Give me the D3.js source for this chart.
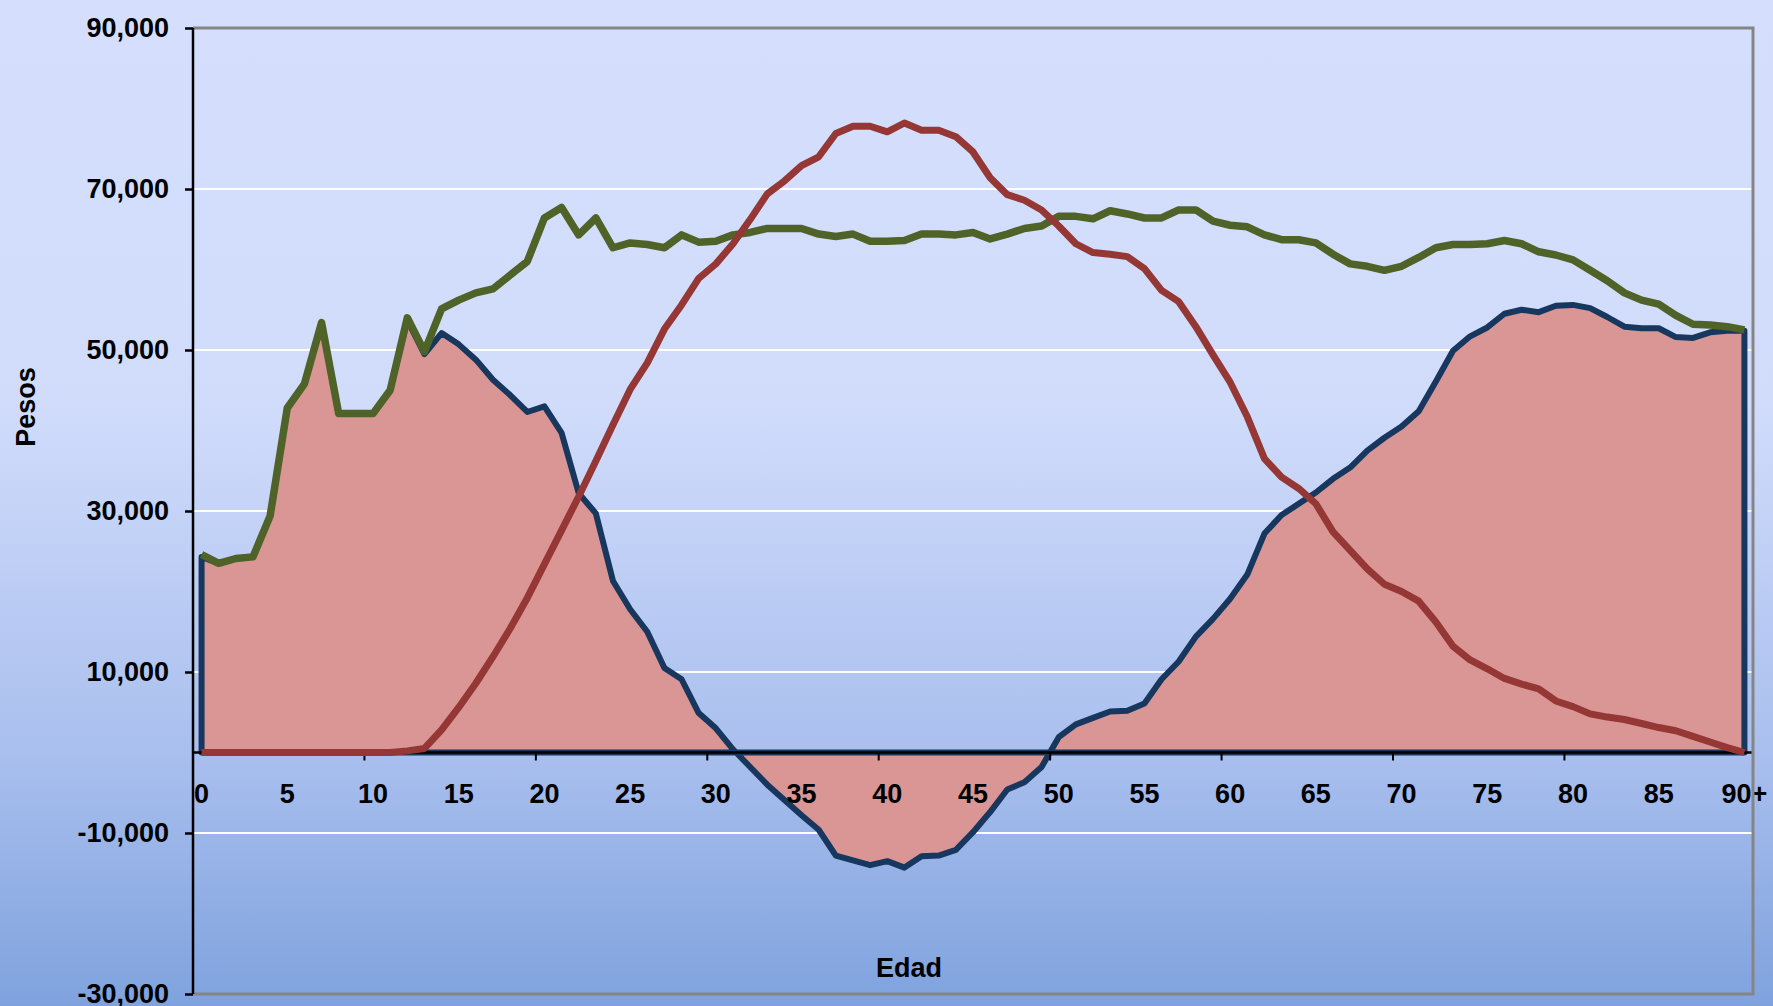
<!DOCTYPE html>
<meta charset="utf-8">
<style>
body { margin: 0; }
svg { display: block; }
.label {
  font-family: Arial, "Liberation Sans", sans-serif;
  font-weight: bold;
  font-size: 27px;
  fill: #000;
}
.grid line { stroke: #fff; stroke-width: 2px; }
</style>
<body>

<script src="https://d3js.org/d3.v7.min.js"></script>
<script>

// categories (edad) and tick labels
var ages = d3.range(90).map(String).concat(["90+"]);
var ageLabels = ["0","5","10","15","20","25","30","35","40","45","50","55","60","65","70","75","80","85","90+"];
var ageTicks = ["10","20","30","40","50","60","70","80","90"];
var yTicks = [-30000, -10000, 10000, 30000, 50000, 70000, 90000];
var gridValues = [-10000, 10000, 30000, 50000, 70000];

// consumo (verde)
var consumo = [24600,23500,24100,24300,29400,42800,45800,53400,42100,42100,
  42100,45000,54000,49800,55100,56200,57100,57600,59300,61000,
  66400,67700,64300,66400,62700,63300,63100,62700,64300,63400,
  63500,64300,64600,65100,65100,65100,64400,64100,64400,63500,
  63500,63600,64400,64400,64300,64600,63800,64400,65100,65400,
  66600,66600,66300,67300,66900,66400,66400,67400,67400,66000,
  65500,65300,64300,63700,63700,63300,61900,60700,60400,59900,
  60400,61500,62700,63100,63100,63200,63600,63200,62200,61800,
  61200,59900,58600,57100,56200,55700,54300,53200,53100,52900,
  52500];

// ingreso laboral (rojo)
var ingreso = [0,0,0,0,0,0,0,0,0,0,
  0,0,200,500,2800,5600,8600,11900,15400,19200,
  23400,27600,31800,36200,40700,45100,48400,52600,55600,58900,
  60700,63200,66200,69400,71000,72900,74000,76900,77800,77800,
  77100,78200,77300,77300,76500,74600,71400,69300,68600,67400,
  65400,63200,62100,61900,61600,60100,57400,56000,52900,49400,
  46000,41700,36500,34200,32800,30900,27400,25100,22800,20900,
  20000,18800,16200,13200,11500,10400,9200,8500,7900,6400,
  5700,4800,4400,4100,3600,3100,2700,2000,1300,600,
  0];

// deficit del ciclo de vida (area)
var deficit = [24300,23500,24100,24300,29400,42800,45800,53400,42100,42100,
  42100,45000,53700,49500,52100,50700,48800,46300,44400,42300,
  43000,39700,32200,29700,21300,17800,15000,10500,9100,4900,
  3000,400,-1800,-4000,-5900,-7800,-9600,-12800,-13400,-14000,
  -13500,-14300,-12900,-12800,-12100,-9900,-7400,-4600,-3700,-1800,
  1900,3500,4300,5100,5200,6100,9100,11300,14400,16600,
  19100,22100,27200,29500,30900,32300,34000,35400,37500,39100,
  40500,42400,46100,49900,51700,52800,54500,55000,54700,55500,
  55600,55200,54100,52900,52700,52700,51600,51500,52200,52400,
  52400];

var W = 1773, H = 1006;
var margin = {top: 28, right: 20, bottom: 12, left: 193},
    width = W - margin.left - margin.right,
    height = H - margin.top - margin.bottom;

var svg0 = d3.select("body").append("svg")
    .attr("width", W)
    .attr("height", H);

// background gradient
var grad = svg0.append("defs").append("linearGradient")
    .attr("id", "bg")
    .attr("x1", 0).attr("y1", 0).attr("x2", 0).attr("y2", 1);
grad.append("stop").attr("offset", "0%").attr("stop-color", "#d5dffd");
grad.append("stop").attr("offset", "40%").attr("stop-color", "#d1dcfb");
grad.append("stop").attr("offset", "75%").attr("stop-color", "#a9bfee");
grad.append("stop").attr("offset", "100%").attr("stop-color", "#7fa2de");

svg0.append("rect")
    .attr("width", W)
    .attr("height", H)
    .attr("fill", "url(#bg)");

var svg = svg0.append("g")
    .attr("transform", "translate(" + margin.left + "," + margin.top + ")");

var x = d3.scaleBand().domain(ages).range([0, width]);
var y = d3.scaleLinear().domain([-30000, 90000]).range([height, 0]);
var cx = function(i) { return x(ages[i]) + x.bandwidth() / 2; };

// white gridlines
svg.append("g").attr("class", "grid")
  .selectAll("line").data(gridValues).enter().append("line")
    .attr("x1", 0).attr("x2", width)
    .attr("y1", function(d) { return y(d); })
    .attr("y2", function(d) { return y(d); });

// area of the deficit with its blue outline
var area = d3.area()
    .x(function(d, i) { return cx(i); })
    .y0(y(0))
    .y1(function(d) { return y(d); });

svg.append("path")
    .datum(deficit)
    .attr("d", area)
    .attr("fill", "#d99694")
    .attr("stroke", "#17375e")
    .attr("stroke-width", 6)
    .attr("stroke-linejoin", "round");

// x axis at zero
svg.append("line")
    .attr("x1", 0).attr("x2", width)
    .attr("y1", y(0)).attr("y2", y(0))
    .attr("stroke", "#000").attr("stroke-width", 2.5);

svg.append("g").selectAll("line").data(ageTicks).enter().append("line")
    .attr("x1", function(d) { return x(d); })
    .attr("x2", function(d) { return x(d); })
    .attr("y1", y(0)).attr("y2", y(0) + 8)
    .attr("stroke", "#000").attr("stroke-width", 2);

svg.append("g").selectAll("text").data(ageLabels).enter().append("text")
    .attr("class", "label")
    .attr("x", function(d) { return x(d) + x.bandwidth() / 2; })
    .attr("y", y(0) + 50)
    .attr("text-anchor", "middle")
    .text(function(d) { return d; });

var line = d3.line()
    .x(function(d, i) { return cx(i); })
    .y(function(d) { return y(d); });

svg.append("path")
    .datum(consumo)
    .attr("d", line)
    .attr("fill", "none")
    .attr("stroke", "#4f6228")
    .attr("stroke-width", 7.5)
    .attr("stroke-linejoin", "round");

svg.append("path")
    .datum(ingreso)
    .attr("d", line)
    .attr("fill", "none")
    .attr("stroke", "#953735")
    .attr("stroke-width", 7)
    .attr("stroke-linejoin", "round");

// plot border (gray) on top, right, bottom
svg.append("path")
    .attr("d", "M0," + y(90000) + "H" + width + "V" + y(-30000) + "H0")
    .attr("fill", "none")
    .attr("stroke", "#858585")
    .attr("stroke-width", 3);

// y axis
var fmt = d3.format(",");
var yAxis = svg.append("g")
    .call(d3.axisLeft(y)
      .tickValues(yTicks)
      .tickSize(8)
      .tickPadding(16)
      .tickFormat(function(d) { return fmt(d).replace("\u2212", "-"); }));
yAxis.select(".domain").attr("stroke", "#000").attr("stroke-width", 2.5)
    .attr("d", "M0," + y(90000) + "V" + y(-30000));
yAxis.selectAll(".tick line").attr("stroke", "#000").attr("stroke-width", 2.5);
yAxis.selectAll("text")
    .attr("class", "label")
    .attr("fill", "#000")
    .style("font-size", "27px");

// axis titles
svg0.append("text")
    .attr("class", "label")
    .attr("transform", "translate(35,407) rotate(-90)")
    .attr("text-anchor", "middle")
    .text("Pesos");

svg0.append("text")
    .attr("class", "label")
    .attr("x", 909)
    .attr("y", 977)
    .attr("text-anchor", "middle")
    .text("Edad");

</script>
</body>
